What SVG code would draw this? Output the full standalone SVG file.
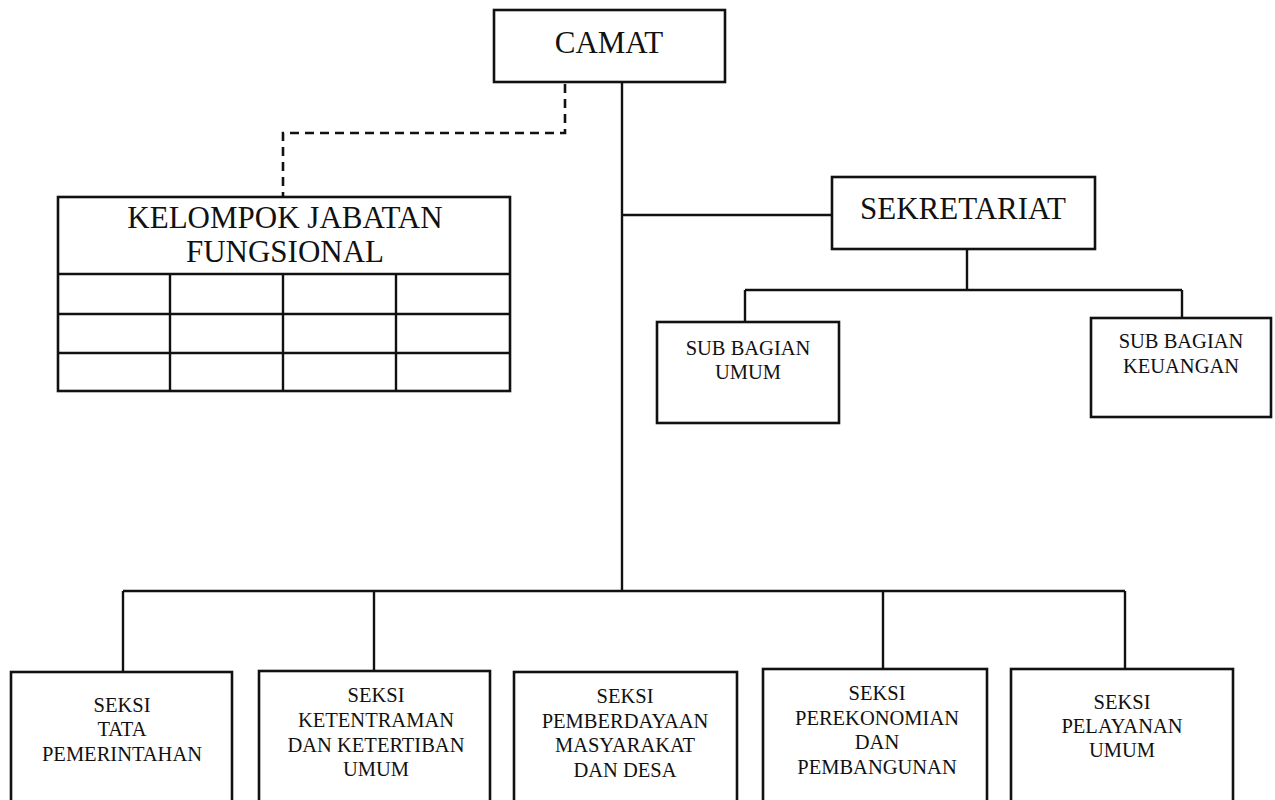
<svg xmlns="http://www.w3.org/2000/svg" width="1275" height="800" viewBox="0 0 1275 800">
<style>
.box{fill:#fff;stroke:#111;stroke-width:2.6}
.ln{fill:none;stroke:#111;stroke-width:2.4}
.dash{fill:none;stroke:#111;stroke-width:2.6;stroke-dasharray:9 6}
.big{font-family:"Liberation Serif","Times New Roman",serif;font-size:31px;fill:#111;text-anchor:middle}
.sm{font-family:"Liberation Serif","Times New Roman",serif;font-size:20.5px;fill:#111;text-anchor:middle}
</style>
<rect width="1275" height="800" fill="#fff"/>
<g id="connectors">
<path class="ln" d="M622,82 V591"/>
<path class="dash" d="M565,84 V133 H283 V196"/>
<path class="ln" d="M622,215 H832"/>
<path class="ln" d="M967,249 V290 M745,290 H1182 M745,290 V322 M1182,290 V318"/>
<path class="ln" d="M123,591 H1125 M123,591 V672 M374,591 V671 M883,591 V669 M1125,591 V669"/>
</g>
<g id="camat">
<rect class="box" x="494" y="10" width="231" height="72"/>
<text class="big" x="609" y="53">CAMAT</text>
</g>
<g id="kelompok-jabatan-fungsional">
<rect class="box" x="58" y="197" width="452" height="194"/>
<path class="ln" d="M58,274 H510 M58,314 H510 M58,353 H510 M170,274 V391 M283,274 V391 M396,274 V391"/>
<text class="big" x="285" y="228">KELOMPOK JABATAN</text>
<text class="big" x="285" y="262">FUNGSIONAL</text>
</g>
<g id="sekretariat">
<rect class="box" x="832" y="177" width="263" height="72"/>
<text class="big" x="963" y="219">SEKRETARIAT</text>
</g>
<g id="sub-bagian-umum">
<rect class="box" x="657" y="322" width="182" height="101"/>
<text class="sm" x="748" y="355">SUB BAGIAN</text>
<text class="sm" x="748" y="379">UMUM</text>
</g>
<g id="sub-bagian-keuangan">
<rect class="box" x="1091" y="318" width="180" height="99"/>
<text class="sm" x="1181" y="348">SUB BAGIAN</text>
<text class="sm" x="1181" y="373">KEUANGAN</text>
</g>
<g id="seksi-tata-pemerintahan">
<rect class="box" x="11" y="672" width="221" height="140"/>
<text class="sm" x="122" y="712">SEKSI</text>
<text class="sm" x="122" y="736">TATA</text>
<text class="sm" x="122" y="761">PEMERINTAHAN</text>
</g>
<g id="seksi-ketentraman">
<rect class="box" x="259" y="671" width="231" height="140"/>
<text class="sm" x="376" y="702">SEKSI</text>
<text class="sm" x="376" y="727">KETENTRAMAN</text>
<text class="sm" x="376" y="752">DAN KETERTIBAN</text>
<text class="sm" x="376" y="776">UMUM</text>
</g>
<g id="seksi-pemberdayaan">
<rect class="box" x="514" y="672" width="223" height="140"/>
<text class="sm" x="625" y="703">SEKSI</text>
<text class="sm" x="625" y="728">PEMBERDAYAAN</text>
<text class="sm" x="625" y="752">MASYARAKAT</text>
<text class="sm" x="625" y="777">DAN DESA</text>
</g>
<g id="seksi-perekonomian">
<rect class="box" x="763" y="669" width="224" height="140"/>
<text class="sm" x="877" y="700">SEKSI</text>
<text class="sm" x="877" y="725">PEREKONOMIAN</text>
<text class="sm" x="877" y="749">DAN</text>
<text class="sm" x="877" y="774">PEMBANGUNAN</text>
</g>
<g id="seksi-pelayanan-umum">
<rect class="box" x="1011" y="669" width="222" height="140"/>
<text class="sm" x="1122" y="709">SEKSI</text>
<text class="sm" x="1122" y="733">PELAYANAN</text>
<text class="sm" x="1122" y="757">UMUM</text>
</g>
</svg>
